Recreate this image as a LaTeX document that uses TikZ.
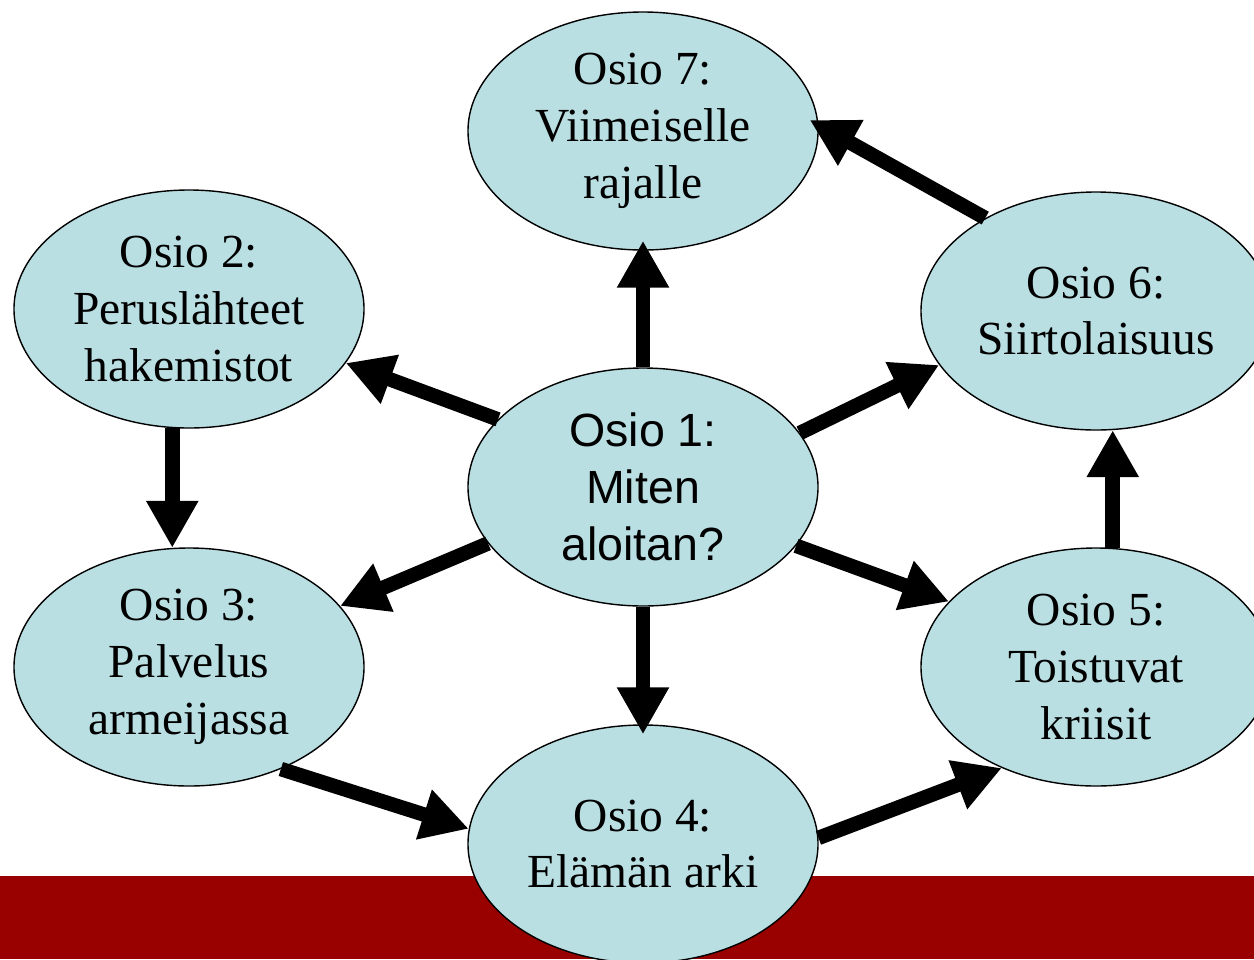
\documentclass[tikz,border=0pt]{standalone}
\usepackage{fontspec}
\setmainfont{Liberation Serif}
\newfontfamily\arialfont{Liberation Sans}
\usetikzlibrary{arrows.meta,shapes.geometric}
\definecolor{osiofill}{RGB}{185,223,227}
\definecolor{barred}{RGB}{153,0,0}

\begin{document}
\begin{tikzpicture}[x=.2mm, y=-.2mm,
  osio/.style={ellipse, draw=black, line width=.8pt, fill=osiofill,
    minimum width=70mm, minimum height=47.6mm, inner sep=0pt, align=center,
    font=\fontsize{27}{32.3}\selectfont},
  siirto/.style={line width=2.9mm, -{Triangle[length=9.4mm,width=9.8mm]}}]
\clip (0,0) rectangle (1254,959);
\fill[barred] (0,876) rectangle (1254,959);

\node[osio, font=\arialfont\fontsize{26.5}{32.3}\selectfont] (o1) at (643,487) {Osio 1:\\Miten\\aloitan?};
\node[osio] (o7) at (643,131) {Osio 7:\\Viimeiselle\\rajalle};
\node[osio] (o2) at (189,309) {Osio 2:\\Peruslähteet\\hakemistot};
\node[osio] (o6) at (1096,311) {Osio 6:\\Siirtolaisuus};
\node[osio] (o3) at (189,667) {Osio 3:\\Palvelus\\armeijassa};
\node[osio] (o5) at (1096,667) {Osio 5:\\Toistuvat\\kriisit};
\node[osio] (o4) at (643,844) {Osio 4:\\Elämän arki};

\draw[siirto, shorten >=-2mm] (o1.north) -- (o7.south);
\draw[siirto] (o1.155) -- (o2.-19);
\draw[siirto] (o1.19) -- (o6.-161);
\draw[siirto] (o1.-160) -- (o3.22);
\draw[siirto] (o1.-21) -- (o5.156);
\draw[siirto, shorten >=-2mm] (o1.south) -- (o4.north);
\draw[siirto] (o2.-98) -- (o3.98);
\draw[siirto] (o3.-48) -- (o4.175);
\draw[siirto] (o4.2) -- (o5.-133);
\draw[siirto] (o5.82) -- (o6.-82);
\draw[siirto, shorten >=-2mm] (o6.140) -- (o7.2);
\end{tikzpicture}
\end{document}
